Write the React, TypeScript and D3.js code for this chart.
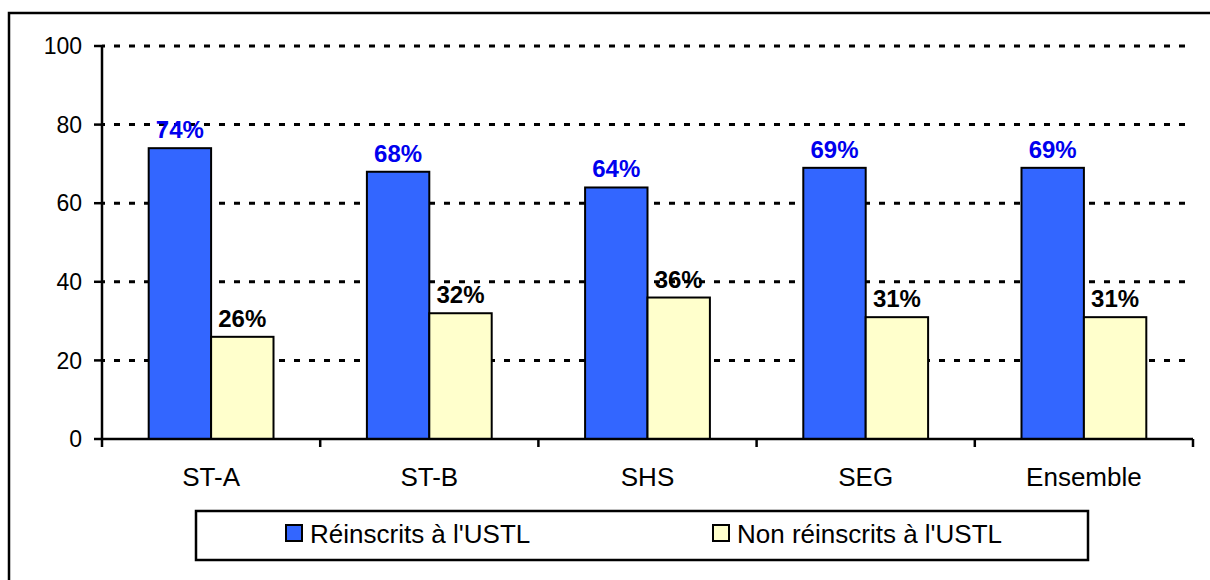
import React from "react";
import * as d3 from "d3";

const categories = ["ST-A", "ST-B", "SHS", "SEG", "Ensemble"];
const reinscrits = [74, 68, 64, 69, 69];
const nonReinscrits = [26, 32, 36, 31, 31];
const seriesNames = ["Réinscrits à l'USTL", "Non réinscrits à l'USTL"];
const yTicks = [0, 20, 40, 60, 80, 100];

const W = 1210;
const H = 580;
const plot = { left: 102, right: 1193, top: 46, bottom: 439 };
const colors = ["#3366FF", "#FFFFCC"];
const labelColors = ["#0000EE", "#000000"];
const FONT = "'Liberation Sans', Arial, sans-serif";

export default function App() {
  const y = d3.scaleLinear().domain([0, 100]).range([plot.bottom, plot.top]);
  const pad = 0.428;
  const x0 = d3
    .scaleBand<string>()
    .domain(categories)
    .range([plot.left, plot.right])
    .paddingInner(pad)
    .paddingOuter(pad / 2);
  const x1 = d3.scaleBand<string>().domain(["0", "1"]).range([0, x0.bandwidth()]);
  const series = [reinscrits, nonReinscrits];
  const step = x0.step();
  const boundaries = d3.range(categories.length + 1).map((i) => plot.left + i * step);

  return (
    <svg
      width={W}
      height={H}
      style={{ position: "absolute", left: 0, top: 0, background: "#fff" }}
      fontFamily={FONT}
    >
      <rect x={9} y={13} width={W + 10} height={H + 10} fill="#fff" stroke="#000" strokeWidth={2.5} />
      {/* gridlines */}
      {yTicks.filter((t) => t > 0).map((t) => (
        <line
          key={"g" + t}
          x1={plot.left}
          x2={plot.right}
          y1={y(t)}
          y2={y(t)}
          stroke="#000"
          strokeWidth={3}
          strokeDasharray="6 9"
          strokeDashoffset={-12}
        />
      ))}
      {/* bars */}
      {series.map((vals, si) =>
        categories.map((c, ci) => {
          const bx = (x0(c) as number) + (x1(String(si)) as number);
          const bw = x1.bandwidth();
          return (
            <rect
              key={`b${si}-${ci}`}
              x={bx}
              y={y(vals[ci])}
              width={bw}
              height={y(0) - y(vals[ci])}
              fill={colors[si]}
              stroke="#000"
              strokeWidth={2}
            />
          );
        })
      )}
      {/* data labels */}
      {series.map((vals, si) =>
        categories.map((c, ci) => {
          const bx = (x0(c) as number) + (x1(String(si)) as number) + x1.bandwidth() / 2;
          return (
            <text
              key={`l${si}-${ci}`}
              x={bx}
              y={y(vals[ci]) - 10}
              textAnchor="middle"
              fontSize={24}
              fontWeight="bold"
              fill={labelColors[si]}
            >
              {vals[ci] + "%"}
            </text>
          );
        })
      )}
      {/* y axis */}
      <line x1={plot.left} x2={plot.left} y1={plot.top} y2={plot.bottom} stroke="#000" strokeWidth={2.5} />
      {yTicks.map((t) => (
        <g key={"yt" + t}>
          <line x1={plot.left - 8} x2={plot.left} y1={y(t)} y2={y(t)} stroke="#000" strokeWidth={2.5} />
          <text x={plot.left - 20} y={y(t)} dy="0.36em" textAnchor="end" fontSize={23} fill="#000">
            {t}
          </text>
        </g>
      ))}
      {/* x axis */}
      <line x1={plot.left} x2={plot.right} y1={plot.bottom} y2={plot.bottom} stroke="#000" strokeWidth={2.5} />
      {boundaries.map((bx, i) => (
        <line key={"xt" + i} x1={bx} x2={bx} y1={plot.bottom} y2={plot.bottom + 8} stroke="#000" strokeWidth={2.5} />
      ))}
      {categories.map((c) => (
        <text
          key={"xl" + c}
          x={(x0(c) as number) + x0.bandwidth() / 2}
          y={486}
          textAnchor="middle"
          fontSize={26}
          fill="#000"
        >
          {c}
        </text>
      ))}
      {/* legend */}
      <rect x={196} y={511} width={892} height={49} fill="#fff" stroke="#000" strokeWidth={2.5} />
      {seriesNames.map((n, i) => {
        const lx = i === 0 ? 286 : 713;
        return (
          <g key={"lg" + i}>
            <rect x={lx} y={525} width={16} height={16} fill={colors[i]} stroke="#000" strokeWidth={2} />
            <text x={lx + 24} y={543} fontSize={26} fill="#000">
              {n}
            </text>
          </g>
        );
      })}
    </svg>
  );
}
